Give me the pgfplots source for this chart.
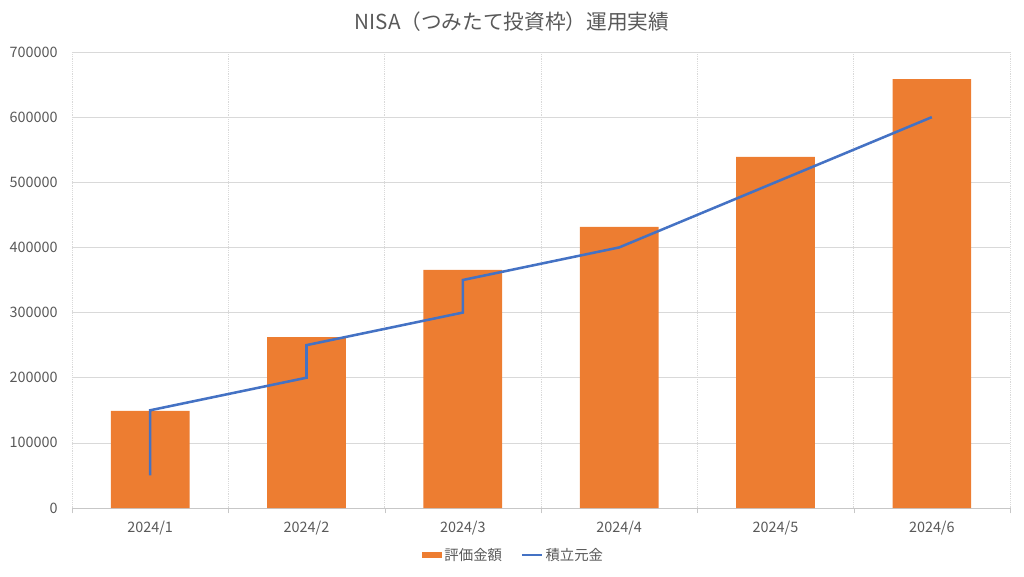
\documentclass[border=0pt]{standalone}
\usepackage{pgfplots}
\pgfplotsset{compat=1.18}
\usepackage{fontspec}
\setmainfont{Noto Sans CJK JP}
\definecolor{barorange}{HTML}{ED7D31}
\definecolor{lineblue}{HTML}{4472C4}
\definecolor{txtgray}{HTML}{595959}
\definecolor{gridgray}{HTML}{D9D9D9}
\begin{document}
\begin{tikzpicture}[x=0.75pt,y=0.75pt]
\useasboundingbox (0,0) rectangle (1024,576);
\node[text=txtgray,font=\fontsize{15.5}{18}\selectfont] at (512,554) {NISA（つみたて投資枠）運用実績};
\begin{axis}[
  at={(72*0.75pt,68*0.75pt)}, anchor=origin,
  scale only axis, width=703.5pt, height=342pt,
  xmin=0.5, xmax=6.5, ymin=0, ymax=700000,
  xtick={1,...,6},
  xticklabels={2024/1,2024/2,2024/3,2024/4,2024/5,2024/6},
  minor xtick={0.5,1.5,...,6.5},
  minor x grid style={gridgray, densely dotted},
  xminorgrids=true,
  ytick={0,100000,...,700000},
  ymajorgrids=true,
  major grid style={gridgray},
  scaled y ticks=false,
  yticklabel={\pgfmathprintnumber[fixed,1000 sep={},assume math mode=true]{\tick}},
  ticklabel style={text=txtgray, font=\fontsize{10.8}{12}\selectfont},
  axis x line*=bottom, axis y line*=left,
  y axis line style={draw=none},
  x axis line style={draw=gridgray!80!gray},
  major x tick style={draw=none},
  minor x tick style={draw=gridgray!80!gray},
  minor tick length=4pt,
  tick align=outside,
  ytick style={draw=none},
  xticklabel style={yshift=-2pt},
  yticklabel style={xshift=-3pt},
  legend style={at={(0.471,-0.103)}, anchor=center, draw=none, fill=none,
    legend columns=2, font=\fontsize{10.8}{12}\selectfont, text=txtgray,
    /tikz/every even column/.append style={column sep=12pt}},
  clip=false,
]
\addplot[ybar, bar width=59pt, fill=barorange, draw=none,
  legend image code/.code={\fill[barorange] (0pt,-2.6pt) rectangle (15pt,2.6pt);}]
  coordinates {(1,149000) (2,262500) (3,365500) (4,431500) (5,539000) (6,658500)};
\addlegendentry{評価金額}
\addplot[lineblue, line width=1.9pt, mark=none,
  legend image code/.code={\draw[lineblue, line width=1.6pt] (0pt,0pt) -- (15pt,0pt);}]
  coordinates {(1,50000) (1,150000) (2,200000) (2,250000) (3,300000) (3,350000) (4,400000) (5,500000) (6,600000)};
\addlegendentry{積立元金}
\end{axis}
\end{tikzpicture}
\end{document}
